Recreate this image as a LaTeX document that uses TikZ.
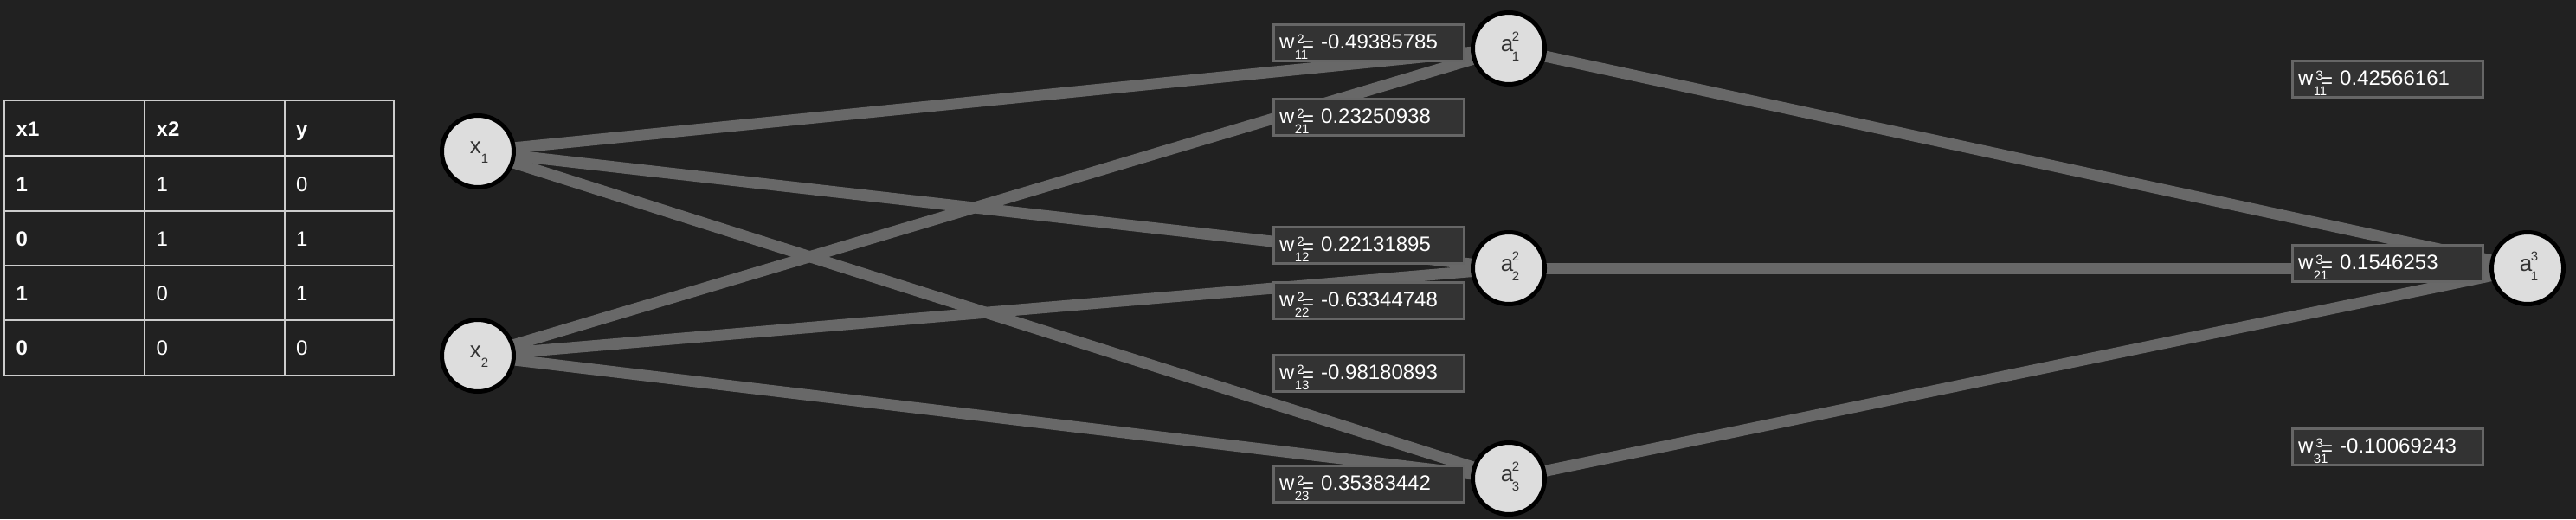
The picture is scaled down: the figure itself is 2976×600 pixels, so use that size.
\documentclass[tikz,border=0pt]{standalone}
\usepackage{fontspec}
\setmainfont{Liberation Sans}
\definecolor{bgc}{HTML}{212121}
\definecolor{edgec}{HTML}{686868}
\definecolor{boxfill}{HTML}{333333}
\definecolor{boxline}{HTML}{666666}
\definecolor{nodefill}{HTML}{DDDDDD}
\definecolor{nodetext}{HTML}{333333}
\definecolor{gridc}{HTML}{CCCCCC}
\definecolor{headc}{HTML}{DDDDDD}
\pgfdeclarelayer{bg}
\pgfsetlayers{bg,main}
\newcommand{\scr}{\fontsize{15}{15}\selectfont}
\newcommand{\wl}[3]{w\makebox[0pt][l]{\kern3pt\raisebox{6pt}{\scr #1}}\makebox[0pt][l]{\kern0.4pt\raisebox{-12pt}{\scr #2}}\kern8.8pt\raisebox{-3pt}{=} #3}
\newcommand{\al}[3]{\kern3.2pt #1\kern-1.5pt\makebox[0pt][l]{\raisebox{12pt}{\scr #2}}\raisebox{-11pt}{\scr #3}}
\newcommand{\xl}[2]{\kern3.2pt #1\raisebox{-11pt}{\scr #2}}
\tikzset{
  neuron/.style={circle, draw=black, line width=5pt, fill=nodefill, minimum size=83pt,
    inner sep=0pt, text=nodetext, font=\fontsize{26}{26}\selectfont, text height=10pt, text depth=4pt},
  wbox/.style={draw=boxline, line width=3pt, fill=boxfill, text=white,
    font=\fontsize{24}{24}\selectfont, anchor=north west, inner xsep=6.5pt, inner ysep=0pt,
    text width=207pt, align=left, minimum height=42pt, text height=20pt, text depth=7pt},
  edge/.style={draw=edgec, line width=13pt},
  cell/.style={anchor=base west, inner sep=0pt, text=white, font=\fontsize{24}{24}\selectfont},
  hcell/.style={cell, font=\fontsize{24}{24}\selectfont\bfseries},
}
\begin{document}
\begin{tikzpicture}[x=1pt,y=-1pt]
\useasboundingbox (0,0) rectangle (2976,600);
% table
\draw[gridc, line width=1.5pt] (5,116) rectangle (455,434);
\draw[gridc, line width=1.5pt] (167,116) -- (167,434) (329,116) -- (329,434)
  (5,244) -- (455,244) (5,307) -- (455,307) (5,370) -- (455,370);
\draw[headc, line width=3pt] (5,180) -- (455,180);
\node[hcell] (h1) at (18.5,157) {x1};
\node[hcell] (h2) at (180.5,157) {x2};
\node[hcell] (h3) at (342,157) {y};
\node[hcell] (r11) at (18.5,221) {1};
\node[cell] (r12) at (180.5,221) {1};
\node[cell] (r13) at (342,221) {0};
\node[hcell] (r21) at (18.5,284) {0};
\node[cell] (r22) at (180.5,284) {1};
\node[cell] (r23) at (342,284) {1};
\node[hcell] (r31) at (18.5,347) {1};
\node[cell] (r32) at (180.5,347) {0};
\node[cell] (r33) at (342,347) {1};
\node[hcell] (r41) at (18.5,410) {0};
\node[cell] (r42) at (180.5,410) {0};
\node[cell] (r43) at (342,410) {0};
% neurons
\node[neuron, text height=8pt] (x1) at (552,175) {\xl{x}{1}};
\node[neuron, text height=8pt] (x2) at (552,411) {\xl{x}{2}};
\node[neuron] (a1) at (1743,56) {\al{a}{2}{1}};
\node[neuron] (a2) at (1743,310) {\al{a}{2}{2}};
\node[neuron] (a3) at (1743,553) {\al{a}{2}{3}};
\node[neuron] (o1) at (2920,310) {\al{a}{3}{1}};
% weight boxes
\node[wbox] (w11) at (1470,27) {\wl{2}{11}{-0.49385785}};
\node[wbox] (w21) at (1470,113) {\wl{2}{21}{0.23250938}};
\node[wbox] (w12) at (1470,261) {\wl{2}{12}{0.22131895}};
\node[wbox] (w22) at (1470,325) {\wl{2}{22}{-0.63344748}};
\node[wbox] (w13) at (1470,409) {\wl{2}{13}{-0.98180893}};
\node[wbox] (w23) at (1470,537) {\wl{2}{23}{0.35383442}};
\node[wbox] (v11) at (2647,69) {\wl{3}{11}{0.42566161}};
\node[wbox] (v21) at (2647,282) {\wl{3}{21}{0.1546253}};
\node[wbox] (v31) at (2647,494) {\wl{3}{31}{-0.10069243}};
\begin{pgfonlayer}{bg}
\fill[bgc] (0,0) rectangle (2976,600);
\draw[edge] (x1.center) -- (a1.center);
\draw[edge] (x1.center) -- (a2.center);
\draw[edge] (x1.center) -- (a3.center);
\draw[edge] (x2.center) -- (a1.center);
\draw[edge] (x2.center) -- (a2.center);
\draw[edge] (x2.center) -- (a3.center);
\draw[edge] (a1.center) -- (o1.center);
\draw[edge] (a2.center) -- (o1.center);
\draw[edge] (a3.center) -- (o1.center);
\end{pgfonlayer}
\end{tikzpicture}
\end{document}
